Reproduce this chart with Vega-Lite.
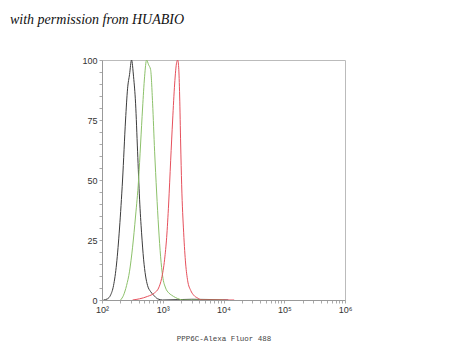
{
  "$schema": "https://vega.github.io/schema/vega-lite/v6.json",
  "autosize": "none",
  "width": 243,
  "height": 240,
  "padding": {"left": 102, "top": 60, "right": 105, "bottom": 60},
  "background": "white",
  "title": {
    "text": "with permission from HUABIO",
    "anchor": "start",
    "frame": "group",
    "dx": -92,
    "offset": 18,
    "baseline": "alphabetic",
    "font": "Liberation Serif",
    "fontStyle": "italic",
    "fontWeight": "normal",
    "fontSize": 14,
    "color": "#111"
  },
  "config": {
    "view": {"stroke": "#bbbbbb", "strokeWidth": 1},
    "axis": {
      "grid": false,
      "domainColor": "#999",
      "tickColor": "#aaa",
      "tickSize": 3,
      "labelFont": "Liberation Sans",
      "labelFontSize": 9,
      "labelColor": "#333",
      "labelOverlap": false,
      "labelFlush": false
    }
  },
  "data": {
    "values": [
      {"s": "black", "x": 105.9, "y": 0},
      {"s": "black", "x": 123.2, "y": 0.5},
      {"s": "black", "x": 138.1, "y": 2},
      {"s": "black", "x": 154.8, "y": 6},
      {"s": "black", "x": 173.5, "y": 15},
      {"s": "black", "x": 194.4, "y": 30},
      {"s": "black", "x": 217.9, "y": 50},
      {"s": "black", "x": 244.2, "y": 75},
      {"s": "black", "x": 263.4, "y": 88},
      {"s": "black", "x": 284.2, "y": 94},
      {"s": "black", "x": 306.6, "y": 100},
      {"s": "black", "x": 330.8, "y": 93},
      {"s": "black", "x": 356.9, "y": 82},
      {"s": "black", "x": 385.1, "y": 62},
      {"s": "black", "x": 415.5, "y": 42},
      {"s": "black", "x": 448.2, "y": 28},
      {"s": "black", "x": 483.6, "y": 17},
      {"s": "black", "x": 521.8, "y": 10},
      {"s": "black", "x": 562.9, "y": 6},
      {"s": "black", "x": 631.0, "y": 3.5},
      {"s": "black", "x": 707.2, "y": 2},
      {"s": "black", "x": 823.4, "y": 0.5},
      {"s": "black", "x": 995.2, "y": 0},
      {"s": "black", "x": 3000, "y": 0.3},
      {"s": "black", "x": 12000, "y": 0},
      {"s": "green", "x": 202.0, "y": 0},
      {"s": "green", "x": 226.3, "y": 2},
      {"s": "green", "x": 253.5, "y": 6},
      {"s": "green", "x": 284.2, "y": 12},
      {"s": "green", "x": 318.5, "y": 22},
      {"s": "green", "x": 356.9, "y": 35},
      {"s": "green", "x": 400.0, "y": 50},
      {"s": "green", "x": 431.6, "y": 65},
      {"s": "green", "x": 465.6, "y": 80},
      {"s": "green", "x": 502.4, "y": 93},
      {"s": "green", "x": 542.0, "y": 100},
      {"s": "green", "x": 584.8, "y": 98},
      {"s": "green", "x": 631.0, "y": 96},
      {"s": "green", "x": 680.8, "y": 82},
      {"s": "green", "x": 734.5, "y": 62},
      {"s": "green", "x": 792.5, "y": 45},
      {"s": "green", "x": 855.0, "y": 30},
      {"s": "green", "x": 922.5, "y": 18},
      {"s": "green", "x": 995.2, "y": 10},
      {"s": "green", "x": 1115, "y": 5},
      {"s": "green", "x": 1250, "y": 3},
      {"s": "green", "x": 1401, "y": 2},
      {"s": "green", "x": 1631, "y": 1},
      {"s": "green", "x": 1898, "y": 0.3},
      {"s": "green", "x": 2210, "y": 0},
      {"s": "green", "x": 10000, "y": 0},
      {"s": "red", "x": 318.5, "y": 0},
      {"s": "red", "x": 415.5, "y": 0.5},
      {"s": "red", "x": 562.9, "y": 1.5},
      {"s": "red", "x": 734.5, "y": 3},
      {"s": "red", "x": 855.0, "y": 5},
      {"s": "red", "x": 958.1, "y": 9},
      {"s": "red", "x": 1074, "y": 17},
      {"s": "red", "x": 1159, "y": 26},
      {"s": "red", "x": 1250, "y": 40},
      {"s": "red", "x": 1349, "y": 58},
      {"s": "red", "x": 1455, "y": 75},
      {"s": "red", "x": 1570, "y": 90},
      {"s": "red", "x": 1694, "y": 99},
      {"s": "red", "x": 1760, "y": 100},
      {"s": "red", "x": 1828, "y": 97},
      {"s": "red", "x": 1898, "y": 85},
      {"s": "red", "x": 1972, "y": 65},
      {"s": "red", "x": 2048, "y": 48},
      {"s": "red", "x": 2210, "y": 28},
      {"s": "red", "x": 2384, "y": 15},
      {"s": "red", "x": 2573, "y": 8},
      {"s": "red", "x": 2884, "y": 4},
      {"s": "red", "x": 3231, "y": 2},
      {"s": "red", "x": 3762, "y": 0.8},
      {"s": "red", "x": 4378, "y": 0},
      {"s": "red", "x": 15000, "y": 0}
    ]
  },
  "mark": {"type": "line", "strokeWidth": 1, "clip": true, "interpolate": "monotone"},
  "encoding": {
    "x": {
      "field": "x",
      "type": "quantitative",
      "scale": {"type": "log", "domain": [100, 1000000], "nice": false},
      "axis": {
        "title": "PPP6C-Alexa Fluor 488",
        "titleFont": "Liberation Mono",
        "titleFontSize": 7.5,
        "titleFontWeight": "normal",
        "titleColor": "#444",
        "titlePadding": 20,
        "values": [100, 200, 300, 400, 500, 600, 700, 800, 900, 1000, 2000, 3000, 4000, 5000, 6000, 7000, 8000, 9000, 10000, 20000, 30000, 40000, 50000, 60000, 70000, 80000, 90000, 100000, 200000, 300000, 400000, 500000, 600000, 700000, 800000, 900000, 1000000],
        "labelExpr": "datum.value == 100 ? '10²' : datum.value == 1000 ? '10³' : datum.value == 10000 ? '10⁴' : datum.value == 100000 ? '10⁵' : datum.value == 1000000 ? '10⁶' : ''"
      }
    },
    "y": {
      "field": "y",
      "type": "quantitative",
      "scale": {"domain": [0, 100], "nice": false},
      "axis": {
        "title": null,
        "values": [0, 5, 10, 15, 20, 25, 30, 35, 40, 45, 50, 55, 60, 65, 70, 75, 80, 85, 90, 95, 100],
        "labelExpr": "datum.value % 25 == 0 ? datum.label : ''"
      }
    },
    "color": {
      "field": "s",
      "type": "nominal",
      "scale": {"domain": ["black", "green", "red"], "range": ["#3c3c3c", "#8cc16a", "#e6505c"]},
      "legend": null
    }
  }
}
